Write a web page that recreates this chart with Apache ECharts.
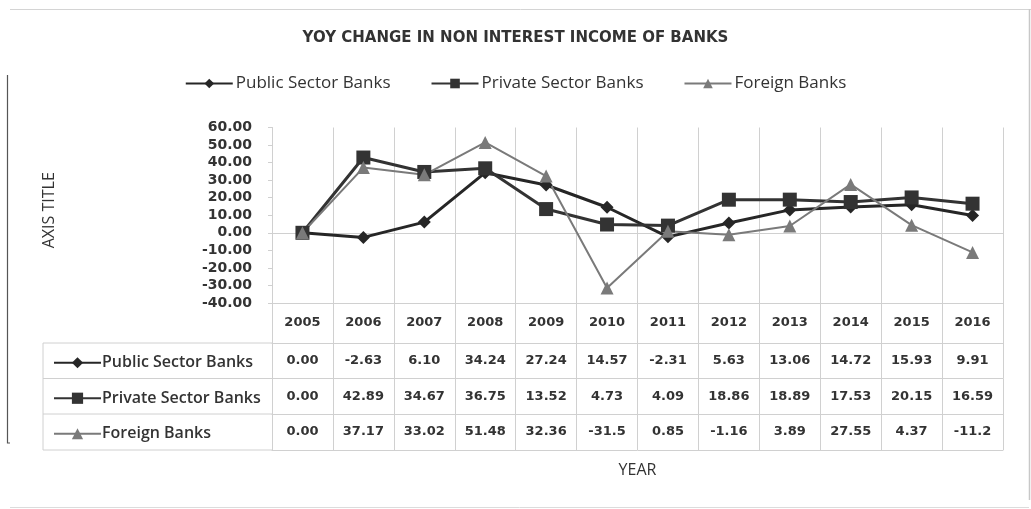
<!DOCTYPE html>
<html>
<head>
<meta charset="utf-8">
<script src="https://cdn.jsdelivr.net/npm/echarts@6/dist/echarts.min.js"></script>
<style>html,body{margin:0;padding:0;background:#fff;}#c{width:1031px;height:509px;}</style>
</head>
<body>
<div id="c"></div>
<script>
// ---- data ----
const years = ['2005','2006','2007','2008','2009','2010','2011','2012','2013','2014','2015','2016'];
const seriesNames = ['Public Sector Banks', 'Private Sector Banks', 'Foreign Banks'];
const publicText  = ['0.00','-2.63','6.10','34.24','27.24','14.57','-2.31','5.63','13.06','14.72','15.93','9.91'];
const privateText = ['0.00','42.89','34.67','36.75','13.52','4.73','4.09','18.86','18.89','17.53','20.15','16.59'];
const foreignText = ['0.00','37.17','33.02','51.48','32.36','-31.5','0.85','-1.16','3.89','27.55','4.37','-11.2'];
const publicVals  = publicText.map(Number);
const privateVals = privateText.map(Number);
const foreignVals = foreignText.map(Number);
const yTicks = { min: -40, max: 60, interval: 10 };

// ---- layout ----
const GRID_LEFT = 272, GRID_RIGHT_X = 1003, GRID_TOP = 127.5, GRID_BOTTOM_Y = 303;
const TABLE_LEFT = 43;
const rowLines = [343, 378.5, 414, 450]; // bottom of header, rows
const W = 1031, H = 509;
const numFont = { fontFamily: 'DejaVu Sans', fontWeight: 'bold', fontSize: 13, color: '#333' };
const gridLine = '#d0d0d0';

const chart = echarts.init(document.getElementById('c'), null, { renderer: 'canvas' });

function tableAxis(offset, rowH, labels, extra) {
  return Object.assign({
    type: 'category', data: years, gridIndex: 0, position: 'bottom', offset: offset,
    boundaryGap: true,
    axisLine: { show: true, onZero: false, lineStyle: { color: gridLine, width: 1 } },
    axisTick: { show: rowH > 0, interval: 0, length: rowH, inside: false, lineStyle: { color: gridLine } },
    axisLabel: labels ? Object.assign({ show: true, interval: 0, margin: rowH / 2, verticalAlign: 'middle',
      formatter: (v, i) => labels[i] }, numFont) : { show: false },
    splitLine: { show: false }
  }, extra || {});
}

const rowTops = [GRID_BOTTOM_Y].concat(rowLines);
const xAxes = [
  { type: 'category', data: years, boundaryGap: true, position: 'bottom',
    axisLine: { show: true, onZero: true, lineStyle: { color: gridLine } },
    axisTick: { show: false }, axisLabel: { show: false },
    splitLine: { show: true, interval: 0, lineStyle: { color: gridLine } } },
  tableAxis(0, rowTops[1] - rowTops[0], years),
  tableAxis(rowTops[1] - GRID_BOTTOM_Y, rowTops[2] - rowTops[1], publicText),
  tableAxis(rowTops[2] - GRID_BOTTOM_Y, rowTops[3] - rowTops[2], privateText),
  tableAxis(rowTops[3] - GRID_BOTTOM_Y, rowTops[4] - rowTops[3], foreignText),
  tableAxis(rowTops[4] - GRID_BOTTOM_Y, 0, null, {
    name: 'YEAR', nameLocation: 'middle', nameGap: 12,
    nameTextStyle: { fontFamily: 'Open Sans', fontSize: 16, color: '#333' } })
];

const colors = ['#262626', '#333333', '#7a7a7a'];

const graphics = [];
// left part of table
rowLines.forEach(y => graphics.push({ type: 'line', silent: true,
  shape: { x1: TABLE_LEFT, y1: y, x2: GRID_LEFT, y2: y }, style: { stroke: gridLine, lineWidth: 1 } }));
graphics.push({ type: 'line', silent: true,
  shape: { x1: TABLE_LEFT, y1: rowLines[0], x2: TABLE_LEFT, y2: rowLines[3] }, style: { stroke: gridLine, lineWidth: 1 } });
// outer frame remnants
graphics.push({ type: 'line', silent: true, shape: { x1: 10, y1: 9.5, x2: W, y2: 9.5 }, style: { stroke: '#d4d4d4', lineWidth: 1 } });
graphics.push({ type: 'line', silent: true, shape: { x1: 1029.5, y1: 9, x2: 1029.5, y2: 500 }, style: { stroke: '#c8c8c8', lineWidth: 1.5 } });
graphics.push({ type: 'line', silent: true, shape: { x1: 10, y1: 507.5, x2: 1029, y2: 507.5 }, style: { stroke: '#dcdcdc', lineWidth: 1 } });
graphics.push({ type: 'polyline', silent: true, shape: { points: [[7.5, 75], [7.5, 443], [10, 443]] }, style: { stroke: '#555', lineWidth: 1.2, fill: null } });

const rowH = rowLines[1] - rowLines[0];
const option = {
  animation: false,
  backgroundColor: '#fff',
  title: { text: 'YOY CHANGE IN NON INTEREST INCOME OF BANKS', left: 'center', top: 26,
    textStyle: { fontFamily: 'DejaVu Sans', fontWeight: 'bold', fontSize: 15, color: '#333' } },
  legend: [
    { data: seriesNames, top: 70, left: 'center', itemWidth: 47, itemHeight: 12, itemGap: 40,
      textStyle: { fontFamily: 'Open Sans', fontSize: 17, color: '#333', padding: [0,0,0,-2] }, selectedMode: false },
    { data: seriesNames, orient: 'vertical', left: 48, top: rowLines[0] + rowH / 2 - 11,
      itemWidth: 47, itemHeight: 14, itemGap: rowH - 16,
      textStyle: { fontFamily: 'Open Sans', fontSize: 16, fontWeight: 600, color: '#333', padding: [0,0,0,-4] }, selectedMode: false }
  ],
  grid: { left: GRID_LEFT, top: GRID_TOP, width: GRID_RIGHT_X - GRID_LEFT, height: GRID_BOTTOM_Y - GRID_TOP, containLabel: false },
  xAxis: xAxes,
  yAxis: { type: 'value', min: yTicks.min, max: yTicks.max, interval: yTicks.interval,
    name: 'AXIS TITLE', nameLocation: 'middle', nameGap: 215, nameRotate: 90,
    nameTextStyle: { fontFamily: 'Open Sans', fontSize: 16, color: '#333', padding: [0, 0, 0, 10] },
    axisLine: { show: true, lineStyle: { color: gridLine } },
    axisTick: { show: true, length: 4, lineStyle: { color: gridLine } },
    axisLabel: Object.assign({ margin: 20, formatter: v => v.toFixed(2) }, numFont, { fontSize: 14 }),
    splitLine: { show: false } },
  graphic: graphics,
  series: [
    { name: seriesNames[0], type: 'line', data: publicVals, symbol: 'diamond', symbolSize: 13,
      itemStyle: { color: colors[0] }, lineStyle: { color: colors[0], width: 3 } },
    { name: seriesNames[1], type: 'line', data: privateVals, symbol: 'rect', symbolSize: 14,
      itemStyle: { color: colors[1] }, lineStyle: { color: colors[1], width: 3 } },
    { name: seriesNames[2], type: 'line', data: foreignVals, symbol: 'triangle', symbolSize: 13,
      itemStyle: { color: colors[2] }, lineStyle: { color: colors[2], width: 2 } }
  ]
};
chart.setOption(option);
</script>
</body>
</html>
